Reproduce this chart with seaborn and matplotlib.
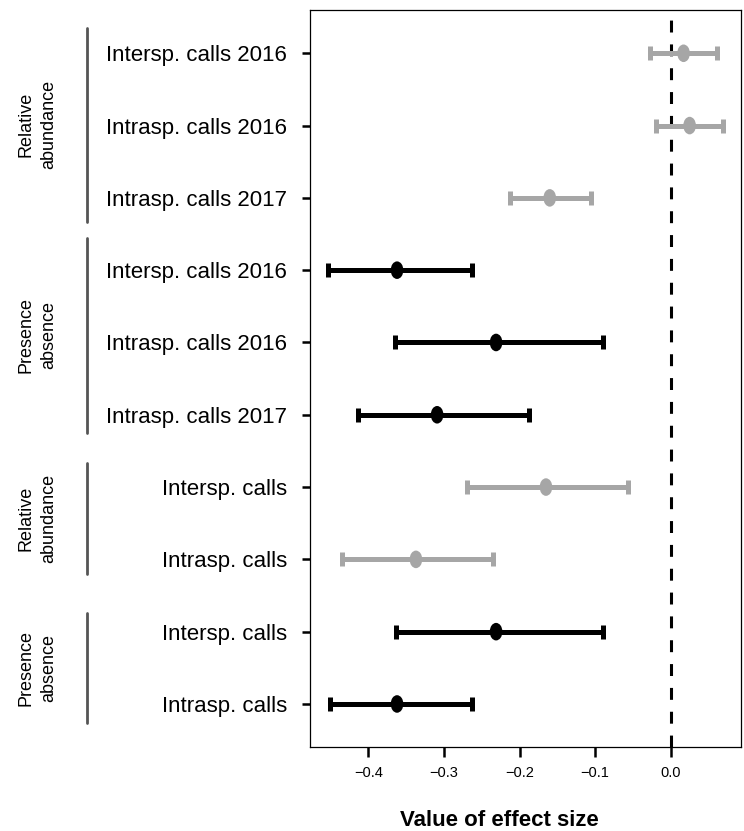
"""
Forest plot: effect sizes of call playback on relative abundance
and presence/absence, with 95% intervals.
"""

import pandas as pd
import seaborn as sns
import matplotlib.pyplot as plt
from matplotlib.path import Path
from matplotlib.transforms import Affine2D


ROW_LABELS = [
    "Intersp. calls 2016",
    "Intrasp. calls 2016",
    "Intrasp. calls 2017",
    "Intersp. calls 2016",
    "Intrasp. calls 2016",
    "Intrasp. calls 2017",
    "Intersp. calls",
    "Intrasp. calls",
    "Intersp. calls",
    "Intrasp. calls",
]
MEASURES = [
    "Relative abundance", "Relative abundance", "Relative abundance",
    "Presence absence", "Presence absence", "Presence absence",
    "Relative abundance", "Relative abundance",
    "Presence absence", "Presence absence",
]
ESTIMATES = [0.017, 0.025, -0.160, -0.362, -0.231, -0.309,
             -0.165, -0.337, -0.231, -0.362]
LOWER = [-0.027, -0.019, -0.212, -0.453, -0.365, -0.414,
         -0.270, -0.435, -0.363, -0.451]
UPPER = [0.061, 0.069, -0.106, -0.263, -0.089, -0.187,
         -0.057, -0.235, -0.090, -0.263]

GROUP_LABELS = ["Relative\nabundance", "Presence\nabsence",
                "Relative\nabundance", "Presence\nabsence"]
# start / end of the bracket line for each group, in row units
GROUP_SPANS = [(0.65, 3.33), (3.55, 6.25), (6.67, 8.20), (8.74, 10.27)]

PALETTE = {"Relative abundance": "#a6a6a6", "Presence absence": "#000000"}


def create_effect_dataframe() -> pd.DataFrame:
    return pd.DataFrame({
        "row": range(1, len(ROW_LABELS) + 1),
        "label": ROW_LABELS,
        "measure": MEASURES,
        "estimate": ESTIMATES,
        "lower": LOWER,
        "upper": UPPER,
    })


def draw_forest_plot(effect_dataframe: pd.DataFrame) -> None:
    sns.set_theme(style="ticks")
    plt.rcParams["font.family"] = ["Liberation Sans", "DejaVu Sans"]
    plt.rcParams["text.color"] = "black"
    plt.rcParams["xtick.color"] = "black"
    plt.rcParams["ytick.color"] = "black"
    plt.rcParams["xtick.labelcolor"] = "black"
    plt.rcParams["ytick.labelcolor"] = "black"

    fig = plt.figure(figsize=(7.44, 8.31), dpi=100)
    ax = fig.add_axes([0.4167, 0.1011, 0.5793, 0.8869])

    # confidence intervals
    for measure, part in effect_dataframe.groupby("measure"):
        ax.errorbar(
            part["estimate"], part["row"],
            xerr=[part["estimate"] - part["lower"],
                  part["upper"] - part["estimate"]],
            fmt="none", ecolor=PALETTE[measure],
            elinewidth=3.6, capsize=4.7, capthick=3.6, zorder=2,
        )

    ellipse = Path.unit_circle().transformed(Affine2D().scale(0.72, 1.0))
    sns.scatterplot(
        data=effect_dataframe, x="estimate", y="row",
        hue="measure", palette=PALETTE, marker=ellipse,
        s=160, linewidth=0, legend=False, zorder=3, ax=ax,
    )

    ax.axvline(0, color="black", lw=2.2, dashes=(3.9, 3.9), zorder=1)

    ax.set_xlim(-0.4771, 0.093)
    ax.set_ylim(10.595, 0.401)
    ax.set_xticks([-0.4, -0.3, -0.2, -0.1, 0.0])
    ax.set_xticklabels(["\u22120.4", "\u22120.3", "\u22120.2",
                        "\u22120.1", "0.0"])
    ax.set_yticks(effect_dataframe["row"])
    ax.set_yticklabels(effect_dataframe["label"])
    ax.tick_params(axis="x", length=7, width=1.8, pad=6.5,
                   labelsize=10.5, color="black", labelcolor="black")
    ax.tick_params(axis="y", length=5.8, width=1.8, pad=10.8,
                   labelsize=16, color="black", labelcolor="black")
    ax.set_xlabel("")
    ax.set_ylabel("")
    for spine in ax.spines.values():
        spine.set_color("black")
        spine.set_linewidth(0.9)

    # group brackets and labels on the left
    bracket_transform = ax.get_yaxis_transform()
    for text, (start, end) in zip(GROUP_LABELS, GROUP_SPANS):
        ax.plot([-0.5174, -0.5174], [start, end], color="#555555",
                lw=2, transform=bracket_transform, clip_on=False)
        ax.text(-0.633, (start + end) / 2, text, rotation=90,
                ha="center", va="center", fontsize=13, linespacing=1.4,
                color="black", transform=bracket_transform)

    fig.text(499 / 744, 1 - 821 / 831, "Value of effect size",
             ha="center", va="center", fontsize=16, fontweight="bold",
             color="black")

    fig.savefig("out.png", dpi=100)


def main() -> None:
    effect_dataframe = create_effect_dataframe()
    draw_forest_plot(effect_dataframe)


if __name__ == "__main__":
    main()
